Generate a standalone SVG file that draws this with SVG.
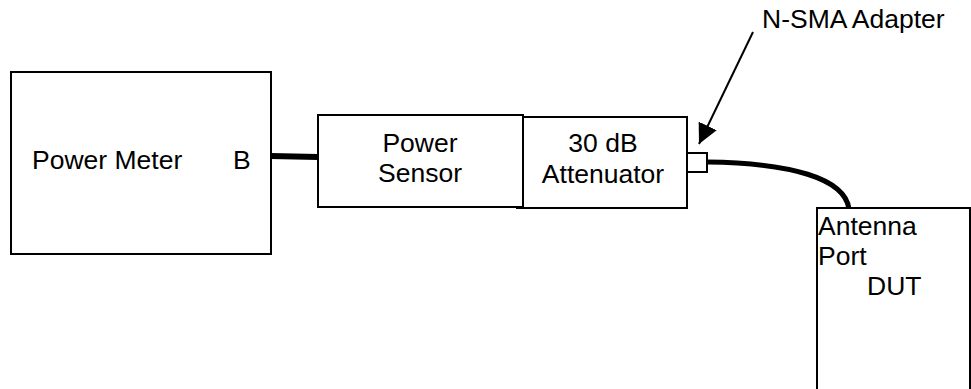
<svg xmlns="http://www.w3.org/2000/svg" width="971" height="389" viewBox="0 0 971 389">
<style>
.box{fill:#fff;stroke:#000;stroke-width:2}
.t{font-family:"Liberation Sans",Arial,sans-serif;font-size:26.5px;fill:#000}
.m{text-anchor:middle}
</style>
<defs>
<marker id="ah" markerUnits="userSpaceOnUse" markerWidth="20" markerHeight="20" viewBox="0 0 20 20" refX="20" refY="10" orient="auto">
<path d="M0,0 L20,10 L0,20 Z" fill="#000"/>
</marker>
</defs>
<rect width="971" height="389" fill="#fff"/>
<g id="connectors">
<line x1="271" y1="156" x2="318" y2="157" stroke="#000" stroke-width="6"/>
<path d="M707,162 C790,163 845,178 849,209" fill="none" stroke="#000" stroke-width="5"/>
<line x1="753" y1="32" x2="699" y2="144" stroke="#000" stroke-width="2" marker-end="url(#ah)"/>
</g>
<g id="power-meter">
<rect class="box" x="11" y="72" width="260" height="182"/>
<text class="t" x="32" y="169">Power Meter</text>
<text class="t" x="233" y="169">B</text>
</g>
<g id="attenuator">
<rect class="box" x="517" y="117" width="170" height="91"/>
<text class="t m" x="603" y="152">30 dB</text>
<text class="t m" x="603" y="183">Attenuator</text>
</g>
<g id="power-sensor">
<rect class="box" x="318" y="115" width="205" height="92"/>
<text class="t m" x="420" y="152">Power</text>
<text class="t m" x="420" y="182">Sensor</text>
</g>
<g id="adapter">
<rect class="box" x="687" y="153" width="20" height="19" stroke-width="1.5"/>
</g>
<g id="n-sma-label">
<text class="t" x="762" y="28">N-SMA Adapter</text>
</g>
<g id="dut">
<rect class="box" x="817" y="208" width="153" height="200" stroke-width="1.5"/>
<text class="t" x="818" y="235">Antenna</text>
<text class="t" x="818" y="265">Port</text>
<text class="t" x="867" y="295">DUT</text>
</g>
</svg>
